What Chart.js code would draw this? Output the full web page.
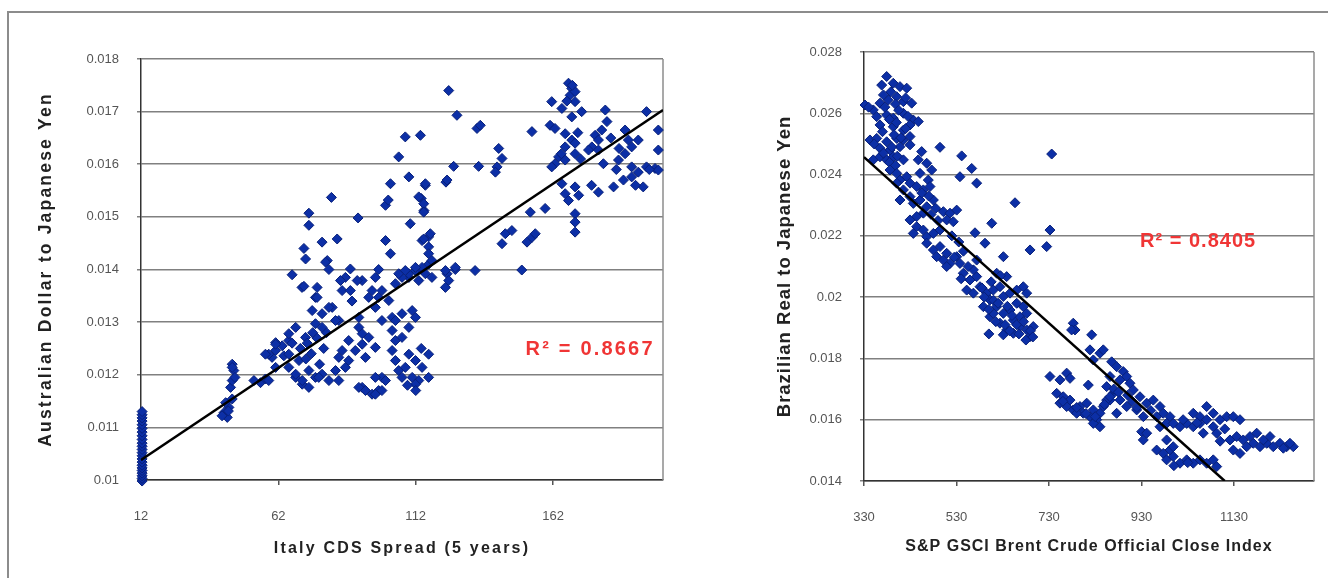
<!DOCTYPE html>
<html lang="en">
<head>
  <meta charset="UTF-8" />
  <title>AUD/JPY vs Italy CDS - BRL/JPY vs Brent</title>
  <script src="https://cdn.jsdelivr.net/npm/chart.js"></script>
  <style>
    html, body { margin: 0; padding: 0; background: #fff; overflow: hidden; }
    body { width: 1328px; height: 578px; position: relative; }
    .frame {
      position: absolute; left: 7px; top: 11px; width: 1340px; height: 600px;
      border-top: 2px solid #8c8c8c; border-left: 2px solid #8c8c8c;
    }
    .box { position: absolute; top: 0; }
  </style>
</head>
<body>
  <div class="frame"></div>
  <div class="box" style="left:0"><canvas id="leftChart" width="680" height="578"></canvas></div>
  <div class="box" style="left:680px"><canvas id="rightChart" width="648" height="578"></canvas></div>

  <script>
    // tick labels
    const cdsTicks = [12, 62, 112, 162];
    const audTicks = [0.01, 0.011, 0.012, 0.013, 0.014, 0.015, 0.016, 0.017, 0.018];
    const brentTicks = [330, 530, 730, 930, 1130];
    const brlTicks = [0.014, 0.016, 0.018, 0.02, 0.022, 0.024, 0.026, 0.028];

    // Italy CDS spread (x) vs AUD/JPY (y)
    const cdsVsAud = [
      [12.4,0.00998],[12.4,0.01003],[12.4,0.01008],[12.4,0.01013],[12.4,0.01018],[12.4,0.01023],[12.4,0.01028],[12.4,0.01034],
      [12.4,0.0104],[12.4,0.01046],[12.4,0.01052],[12.4,0.01058],[12.4,0.01064],[12.4,0.0107],[12.4,0.01077],[12.4,0.01084],
      [12.4,0.01091],[12.4,0.01098],[12.4,0.01105],[12.4,0.01112],[12.4,0.01118],[12.4,0.01124],[12.4,0.0113],
      [43.4,0.01119],[42.2,0.01128],[44,0.01138],[42.8,0.01147],[45.2,0.01154],[44.6,0.01176],[45.2,0.01189],
      [45.8,0.01208],[45.2,0.0122],[41.5,0.01122],[43.8,0.01131],[45.2,0.01214],[46.2,0.01195],
      [53.1,0.01189],[55.5,0.01185],[57.3,0.01192],[58.5,0.01189],[61,0.01214],[59.7,0.01233],[58.5,0.01239],
      [61,0.01246],[63.4,0.01255],[65.8,0.01265],[61,0.01261],[64,0.01236],[57.3,0.01239],[61,0.01258],
      [65.8,0.01278],[68.3,0.0129],
      [65.8,0.01214],[68.3,0.01195],[70.7,0.01182],[73.1,0.01208],[75.5,0.01195],[77.9,0.01201],[71.9,0.01271],
      [75.5,0.01297],[77.9,0.01316],[81.6,0.01328],[84,0.01303],[65.8,0.01239],[69.5,0.01227],[68.3,0.01201],
      [70.7,0.01189],[73.1,0.01176],[76.7,0.01195],[84,0.01233],[82.8,0.01208],[86.4,0.01214],[84,0.01189],
      [85.2,0.01246],[87.6,0.01227],[80.4,0.01189],
      [70,0.0125],[72.5,0.0126],[74,0.0124],[76,0.0127],[78.5,0.0125],[79.5,0.0128],[72,0.0123],[67,0.0126],
      [74.5,0.0128],[77,0.0122],
      [70.6,0.01366],[74.3,0.01322],[75.5,0.01347],[80.4,0.01328],[77.9,0.0129],[82.8,0.01303],[85.2,0.0136],
      [86.4,0.01385],[92.5,0.01379],[94.9,0.01347],[91.3,0.01309],[97.3,0.01328],[99.7,0.0136],[102.2,0.01341],
      [104.6,0.01373],[109.5,0.01385],[113.1,0.01379],
      [67,0.0139],[71.3,0.01368],[76.1,0.01366],[76.1,0.01347],[79.8,0.01417],[80.4,0.014],[84.6,0.01379],
      [88.2,0.01401],[90.7,0.01379],[88.2,0.0136],[88.8,0.0134],[98.5,0.014],[97.3,0.01385],[96.1,0.0136],
      [98.5,0.01347],[79.2,0.01414],
      [87.6,0.01265],[90,0.01246],[92.5,0.01258],[93.7,0.01233],[91.3,0.0129],[92.5,0.01278],[94.9,0.01271],
      [97.3,0.01252],[99.7,0.01303],[92.5,0.01176],[96.1,0.01163],[98.5,0.0117],[99.7,0.01195],[91.3,0.01176],
      [93.7,0.0117],[97.3,0.01163],[99.7,0.0117],[97.3,0.01195],[101,0.01189],
      [103.4,0.01309],[107,0.01316],[110.7,0.01322],[111.9,0.01309],[103.4,0.01284],[104.6,0.01265],
      [103.4,0.01246],[104.6,0.01227],[105.8,0.01208],[107,0.01195],[109.5,0.01239],[111.9,0.01227],
      [114.3,0.01214],[116.7,0.01239],[113.1,0.01189],[110.7,0.01195],[116.7,0.01195],[109.5,0.0129],
      [107,0.01271],[104.6,0.01303],[108.2,0.01214],[111.9,0.01182],[114,0.0125],[112,0.0117],[109,0.0118],
      [107,0.01385],[109.5,0.01392],[111.9,0.01398],[114.3,0.014],[116.7,0.0141],[116.7,0.01462],[116.7,0.01443],
      [116.7,0.0143],[114.3,0.01455],[123.4,0.01392],[126.4,0.014],[122.8,0.01366],[101,0.01455],[102.8,0.0143],
      [101,0.01522],[102,0.01532],[102.8,0.01563],[110,0.01487],[114,0.01535],[115,0.01512],[115.5,0.0156],
      [123,0.01566],
      [124,0.0174],[127,0.01693],[134.3,0.01668],[135.5,0.01674],[108.2,0.01652],[113.7,0.01655],[105.8,0.01614],
      [142.2,0.0163],[143.4,0.01611],[141.6,0.01595],[141,0.01585],[125.8,0.01596],[134.9,0.01596],
      [109.5,0.01576],[115.5,0.01563],[123.4,0.0157],[113.1,0.01538],[114.9,0.01525],[114.9,0.01509],
      [114.9,0.01458],[117.3,0.01468],[117.9,0.01417],[114.3,0.01404],[105.8,0.01392],[108.2,0.01398],
      [111.9,0.01404],[115.5,0.01392],[117.9,0.01385],[122.8,0.01398],[124,0.01379],[126.4,0.01404],
      [133.6,0.01398],[150.6,0.01399],[144.6,0.01468],[147,0.01474],[143.4,0.01449],[152.5,0.01452],
      [154.3,0.01461],[155.5,0.01468],[153.7,0.01509],[159.1,0.01516],
      [81.3,0.01537],[73.1,0.01507],[73.1,0.01484],[91,0.01498],[71.3,0.0144],[71.9,0.0142],[77.9,0.01452],
      [83.4,0.01458],
      [167.6,0.01754],[168.8,0.01744],[168.2,0.01731],[170,0.01738],[161.5,0.01719],[165.2,0.01706],[170,0.01719],
      [172.4,0.017],[168.8,0.0169],[154.3,0.01662],[160.9,0.01674],[162.7,0.01668],[166.4,0.01658],[168.8,0.01646],
      [166.4,0.01633],[170,0.0162],[164,0.01614],[162.7,0.01601],[166.4,0.01608],[170,0.0164],[161.5,0.01595],
      [165.2,0.01563],[166.4,0.01544],[171.3,0.01541],[170,0.01557],[167.6,0.01531],[170,0.01506],[170,0.0149],
      [170,0.01471],[181,0.01703],[181.6,0.01681],[179.7,0.01665],[177.3,0.01655],[178.5,0.01646],[176.1,0.01633],
      [174.9,0.01627],[178.5,0.01627],[180.3,0.01601],[178.5,0.01547],[184,0.01557],[187.6,0.0157],[190.6,0.01576],
      [193,0.01585],[194.8,0.01557],[196,0.01595],[199.1,0.01592],[200.3,0.01589],[189.4,0.01646],[190.6,0.01633],
      [188.2,0.0162],[193,0.01646],[196,0.017],[200.3,0.01665],[200.3,0.01627],[188.2,0.01665],[185.8,0.01608],
      [190.6,0.01595],
      [169,0.0175],[167,0.0172],[171,0.0166],[172,0.0161],[165,0.0162],[183,0.0165],[186,0.0163],[197,0.0159],
      [192,0.0156],[176,0.0156],[185,0.0159]
    ];

    // S&P GSCI Brent index (x) vs BRL/JPY (y)
    const brentVsBrl = [
      [379,0.0272],[368.3,0.02692],[393.3,0.02698],[407.8,0.02687],[422.3,0.02682],[332.2,0.02627],[350.1,0.02611],
      [364.6,0.02633],[382.5,0.02643],[400.7,0.02654],[415.2,0.02638],[433.1,0.02633],[357.5,0.02589],[379,0.02594],
      [393.3,0.02584],[415.2,0.026],[436.6,0.02578],[447.4,0.02573],[364.6,0.02562],[393.3,0.02556],[415.2,0.02545],
      [429.5,0.02562],[343,0.02513],[357.5,0.02518],[379,0.02507],[400.7,0.02518],[415.2,0.02513],[429.5,0.02524],
      [364.6,0.02486],[386.2,0.0248],[407.8,0.02491],[429.5,0.02497],[350.1,0.02448],[364.6,0.02458],[379,0.02448],
      [393.3,0.02458],[415.2,0.02448],
      [340,0.0262],[372,0.0266],[388,0.0267],[398,0.0263],[405,0.0261],[420,0.0265],[375,0.0262],[385,0.0258],
      [400,0.0257],[425,0.0259],[370,0.0254],[395,0.0253],[410,0.0252],[420,0.0255],[352,0.025],[390,0.0249],
      [402,0.0246],[372,0.0247],[385,0.0244],[398,0.0243],
      [454.7,0.02475],[494.3,0.02489],[541.2,0.02461],[447.4,0.02448],[465.6,0.02437],[476.4,0.02415],
      [451.1,0.02404],[469,0.02382],[562.9,0.0242],[537.5,0.02393],[573.6,0.02372],[735.8,0.02467],
      [386.2,0.02415],[400.7,0.02404],[407.8,0.02382],[422.3,0.02393],[429.5,0.02372],[443.9,0.02361],
      [458.3,0.0235],[472.7,0.02361],[400.7,0.02372],[415.2,0.0235],[407.8,0.02317],[429.5,0.02328],
      [436.6,0.02306],[451.1,0.02317],[465.6,0.02295],[480,0.02317],[458.3,0.02274],[443.9,0.02263],
      [656.5,0.02308],[501.6,0.02279],[516,0.02274],[530.4,0.02284],[508.8,0.02252],[523.1,0.02246],
      [606.2,0.02241],[429.5,0.02252],[443.9,0.0223],[458.3,0.02219],[436.6,0.02208],[465.6,0.02197],
      [480,0.02208],[494.3,0.02219],[570,0.0221],[591.6,0.02176],[732.1,0.02219],[725,0.02165],[689,0.02154],
      [631.4,0.02132],
      [465.6,0.02176],[480,0.02154],[494.3,0.02165],[508.8,0.02143],[487.2,0.02132],[501.6,0.02121],[516,0.0211],
      [530.4,0.02132],[537.5,0.0211],[508.8,0.021],[544.7,0.02078],[559.2,0.02056],[552,0.02023],[573.6,0.02067],
      [566.5,0.02013],[566.5,0.02089],[573.6,0.02121],
      [455,0.0234],[470,0.0233],[485,0.0229],[475,0.0227],[490,0.0225],[520,0.022],[535,0.0218],[545,0.0215],
      [525,0.0213],[555,0.021],[540,0.0206],
      [580.8,0.02034],[595.3,0.02013],[609.6,0.02023],[624,0.02034],[602.4,0.01991],[616.9,0.01969],[631.2,0.02002],
      [645.7,0.02013],[631.2,0.01947],[645.7,0.01958],[660.2,0.0198],[653,0.01925],[667.3,0.01936],[681.8,0.01947],
      [667.3,0.01904],[681.8,0.01893],[696,0.01904],[688.9,0.01871],[674.5,0.01969],[660.2,0.02023],[638.5,0.02067],
      [616.9,0.02078],[588.1,0.01969],[602.4,0.01936],[624,0.01915],[638.5,0.01893],[653,0.01882],[609.6,0.01947],
      [631.2,0.01877],[674.5,0.02034],[681.8,0.02013],
      [590,0.02],[610,0.0199],[620,0.0198],[640,0.0197],[650,0.0194],[660,0.0191],[675,0.0192],[690,0.0189],
      [600,0.0196],[615,0.0192],[635,0.0191],[645,0.0189],[600,0.0188],[665,0.0188],[680,0.0186],[695,0.0187],
      [585,0.0203],[605,0.0205],[625,0.0207],
      [782.5,0.01915],[786.2,0.01893],[822.3,0.01877],[778.9,0.01893],
      [818.6,0.01828],[840.2,0.01817],[847.4,0.01828],[825.8,0.01795],[865.5,0.01789],[876.3,0.01773],
      [890.6,0.01757],[883.5,0.0173],[898,0.01741],[905,0.01719],[912.3,0.01697],[861.9,0.01741],[854.7,0.01708],
      [869,0.01686],[861.9,0.01664],[883.5,0.01664],[898,0.01643],[876.3,0.01621],[926.7,0.01675],[941.2,0.01654],
      [955.5,0.01664],[970,0.01643],[919.6,0.01632],[934,0.0161],
      [962.8,0.0161],[977.1,0.01621],[991.6,0.0161],[984.4,0.01588],[970,0.01577],[998.7,0.01588],[1013.2,0.01577],
      [1027.7,0.01588],[1041.9,0.01577],[1056.4,0.01588],[1070.9,0.01643],[1085.2,0.01621],[1099.7,0.016],
      [1114.2,0.0161],[1128.5,0.0161],[1143,0.016],[1041.9,0.01621],[1056.4,0.0161],[1070.9,0.016],
      [1085.2,0.01577],[1092.6,0.01556],[1063.6,0.01556],
      [930.4,0.01561],[933.9,0.01534],[941.2,0.01556],
      [962.8,0.01501],[977.1,0.0149],[991.6,0.01501],[984.4,0.01469],[998.7,0.0148],[1013.2,0.01458],
      [1027.7,0.01469],[1041.9,0.01458],[1056.4,0.01469],[1070.9,0.01458],[1085.2,0.01469],[1092.6,0.01447],
      [984.4,0.01534],[998.7,0.01512],
      [1121.3,0.01534],[1135.8,0.01545],[1150,0.01534],[1164.6,0.01545],[1179.1,0.01556],[1171.8,0.01523],
      [1186.2,0.01512],[1200.7,0.01523],[1214.9,0.01512],[1229.4,0.01523],[1243.9,0.01512],[1258.2,0.01512],
      [1128.5,0.01501],[1143,0.0149],[1157.5,0.01512],[1193.5,0.01534],[1207.9,0.01545],[1236.7,0.01507],
      [1251,0.01523],
      [732.1,0.01741],[753.7,0.0173],[768.2,0.01752],[775.4,0.01735],[815,0.01713],[746.6,0.01686],[760.9,0.01675],
      [775.4,0.01664],[753.7,0.01654],[768.2,0.01643],[782.5,0.01632],[797,0.01643],[804.1,0.01621],[818.6,0.0161],
      [833.1,0.016],[840.2,0.01621],[825.8,0.01632],[847.4,0.01643],[854.7,0.01664],[861.9,0.01675],[811.5,0.01654],
      [789.8,0.01621],[840.2,0.01577],[825.8,0.01588],
      [760,0.0166],[790,0.0164],[810,0.0162],[830,0.0161],[850,0.0165],[870,0.017],[880,0.0169],[900,0.0168],
      [910,0.0166],[920,0.0164],[950,0.0163],[1020,0.016],[1050,0.0159],[1110,0.0157],[1100,0.0153],[1000,0.0145],
      [1030,0.0146]
    ];

    // linear trend lines (ends)
    const cdsTrendX = [12, 202];
    const audTrendY = [0.01038, 0.01703];
    const brentTrendX = [330, 1110];
    const brlTrendY = [0.02457, 0.014];

    const markerFill = "#0c2fa6";
    const markerEdge = "#08207a";

    // letter spacing for the titles, right edge of the plot frame, R² label
    const extras = {
      id: "extras",
      beforeDraw(chart, args, opts) {
        chart.ctx.letterSpacing = opts.spacing + "px";
      },
      beforeDatasetsDraw(chart) {
        const a = chart.chartArea, ctx = chart.ctx;
        ctx.letterSpacing = "0px";
        ctx.save();
        ctx.strokeStyle = "#8c8c8c";
        ctx.lineWidth = 1.5;
        ctx.beginPath();
        ctx.moveTo(a.right, a.top);
        ctx.lineTo(a.right, a.bottom);
        ctx.stroke();
        ctx.restore();
      },
      afterDatasetsDraw(chart, args, opts) {
        const ctx = chart.ctx;
        const x = chart.scales.x.getPixelForValue(opts.x);
        const y = chart.scales.y.getPixelForValue(opts.y);
        ctx.save();
        ctx.letterSpacing = opts.spacing + "px";
        ctx.font = "bold 20px 'Liberation Sans', Arial, sans-serif";
        ctx.fillStyle = "#f03535";
        ctx.textAlign = opts.align;
        ctx.textBaseline = "middle";
        ctx.fillText(opts.text, x, y);
        ctx.restore();
        ctx.letterSpacing = "0px";
      }
    };

    const family = "'Liberation Sans', Arial, sans-serif";
    const tickFont = { family, size: 13 };
    const fmt = v => String(+Number(v).toFixed(3));

    function makeChart(id, o) {
      return new Chart(document.getElementById(id).getContext("2d"), {
        type: "scatter",
        data: {
          datasets: [
            {
              type: "line",
              data: o.trendX.map((x, i) => ({ x, y: o.trendY[i] })),
              borderColor: "#000",
              borderWidth: 2.5,
              pointRadius: 0,
              fill: false
            },
            {
              data: o.points.map(p => ({ x: p[0], y: p[1] })),
              pointStyle: "rectRot",
              pointRadius: 5,
              backgroundColor: markerFill,
              borderColor: markerEdge,
              borderWidth: 1,
              clip: false
            }
          ]
        },
        options: {
          responsive: false,
          animation: false,
          devicePixelRatio: 1,
          layout: { padding: { top: o.top, right: o.right, left: 0, bottom: 0 } },
          plugins: {
            legend: { display: false },
            tooltip: { enabled: false },
            extras: o.label
          },
          scales: {
            x: {
              type: "linear",
              min: o.xMin, max: o.xMax,
              afterBuildTicks: s => { s.ticks = o.xTicks.map(v => ({ value: v })); },
              afterFit: s => { s.height = o.xAxisH; },
              grid: { drawOnChartArea: false, drawTicks: true, tickLength: 5, color: "#555", lineWidth: 1.5 },
              border: { color: "#333", width: 1.5 },
              ticks: { font: tickFont, color: "#555", padding: 24, z: 1, maxRotation: 0, autoSkip: false, callback: v => String(v) },
              title: {
                display: true, text: o.xTitle, color: "#222",
                font: { family, size: o.xTitleSize, weight: "bold" },
                padding: { top: 0, bottom: o.xTitlePad }
              }
            },
            y: {
              type: "linear",
              min: o.yMin, max: o.yMax,
              afterBuildTicks: s => { s.ticks = o.yTicks.map(v => ({ value: v })); },
              afterFit: s => { s.width = o.yAxisW; },
              grid: { color: "#808080", lineWidth: 1.5, tickLength: 4 },
              border: { color: "#333", width: 1.5 },
              ticks: { font: tickFont, color: "#555", padding: 18, z: 1, callback: fmt },
              title: {
                display: true, text: o.yTitle, color: "#222",
                font: { family, size: o.yTitleSize, weight: "bold" },
                padding: { top: o.yTitlePad, bottom: 0 }
              }
            }
          }
        },
        plugins: [extras]
      });
    }

    makeChart("leftChart", {
      points: cdsVsAud, trendX: cdsTrendX, trendY: audTrendY,
      xMin: 12, xMax: 202, yMin: 0.01, yMax: 0.018,
      xTicks: cdsTicks, yTicks: audTicks,
      top: 59, right: 17, xAxisH: 98, yAxisW: 141,
      xTitleSize: 16, xTitlePad: 20, yTitleSize: 17.5, yTitlePad: 36,
      xTitle: "Italy CDS Spread (5 years)",
      yTitle: "Australian Dollar to Japanese Yen",
      label: { text: "R\u00b2 = 0.8667", x: 199, y: 0.01248, align: "right", spacing: 2.2 }
    });

    makeChart("rightChart", {
      points: brentVsBrl, trendX: brentTrendX, trendY: brlTrendY,
      xMin: 330, xMax: 1303, yMin: 0.014, yMax: 0.028,
      xTicks: brentTicks, yTicks: brlTicks,
      top: 52, right: 14, xAxisH: 97, yAxisW: 184,
      xTitleSize: 16, xTitlePad: 22, yTitleSize: 18.5, yTitlePad: 94,
      xTitle: "S&P GSCI Brent Crude Official Close Index",
      yTitle: "Brazilian Real to Japanese Yen",
      label: { text: "R\u00b2 = 0.8405", x: 927, y: 0.02183, align: "left", spacing: 1 }
    });
  </script>
</body>
</html>
